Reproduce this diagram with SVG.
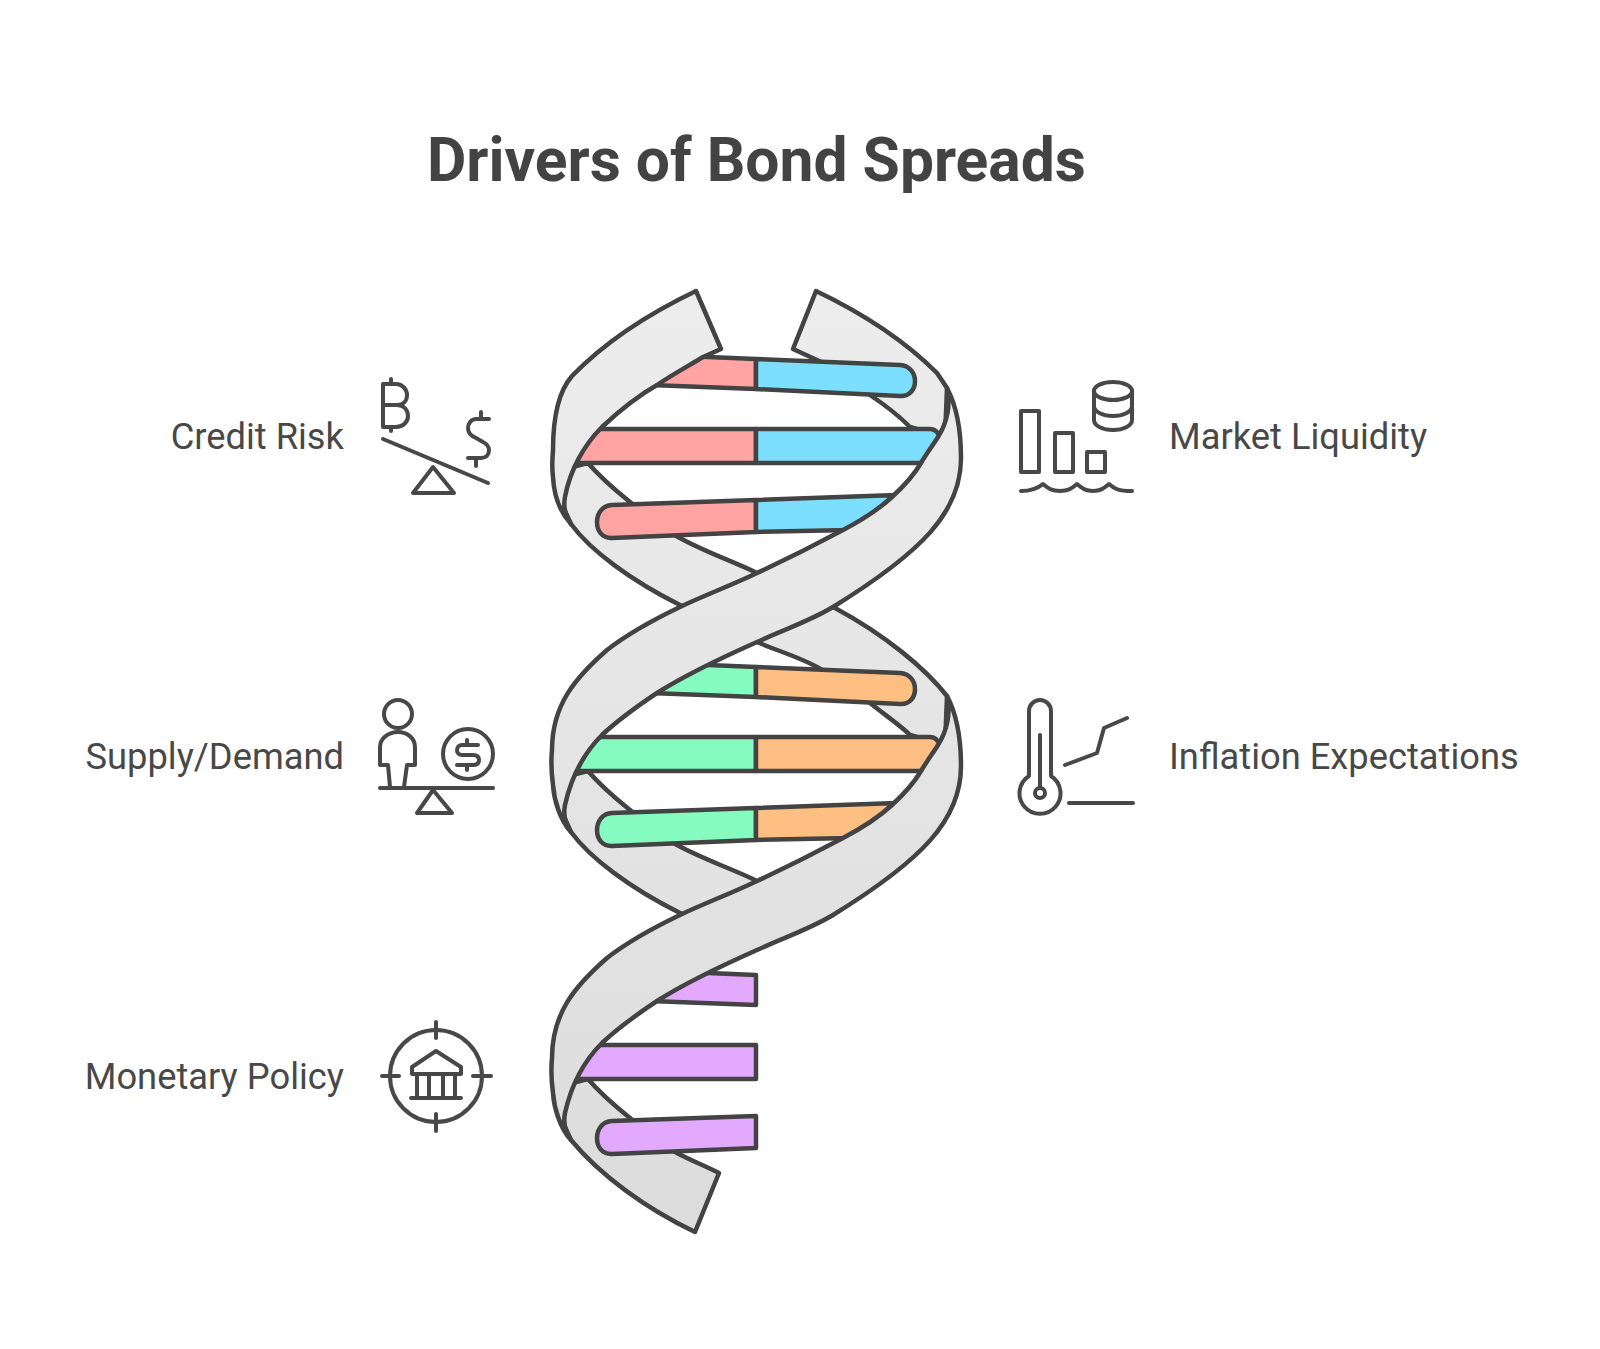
<svg xmlns="http://www.w3.org/2000/svg" xmlns:xlink="http://www.w3.org/1999/xlink" width="1600" height="1349" viewBox="0 0 1600 1349">
<style>
text{font-family:Roboto,"Liberation Sans",sans-serif;fill:#484848}
.t{font-size:60.55px;font-weight:700;fill:#434343}
.l{font-size:36.3px}
.e{text-anchor:end}
.r,.p,.b,.o,.g,.v{stroke:#434343;stroke-width:4.5;stroke-linejoin:round}
.p{fill:#FFA3A3}.b{fill:#7DDFFF}.o{fill:#FFBE82}.g{fill:#85FBC0}.v{fill:#E3A9FF}
.i{fill:none;stroke:#484848;stroke-width:4;stroke-linecap:round;stroke-linejoin:round}
</style>
<defs>
<linearGradient id="a" gradientUnits="userSpaceOnUse" x1="0" y1="290" x2="0" y2="1232"><stop offset="0" stop-color="#EDEDED"/><stop offset="1" stop-color="#DCDCDC"/></linearGradient>
<linearGradient id="a1" gradientUnits="userSpaceOnUse" x1="0" y1="-18" x2="0" y2="924"><stop offset="0" stop-color="#EDEDED"/><stop offset="1" stop-color="#DCDCDC"/></linearGradient>
<path id="front" d="M947 388C956 405 961 430 961 458C961 512 922 552 833 607C810 621 785 629 757 642C730 654 690 672 657 693C636 707 618 720 602 735C584 753 571 778 565 805C563 815 566 825 571 832C560 820 554 800 553 785C551 770 551 760 552 750C552 705 575 678 607 650C630 632 655 619 680 607C705 595 730 586 757 573C785 560 815 545 843 530C862 520 878 510 892 497C904 486 914 475 921 463C927 453 933 445 938 437C947 423 951 405 947 388Z"/>
<path id="back" d="M571 524C590 550 630 580 680 605C705 618 735 632 757 642C780 652 797 656 817 667C836 678 855 690 870 703C885 715 900 725 910 735L945 745L947 696C925 668 885 635 835 608C810 595 785 585 757 573C730 560 705 552 678 537C660 527 645 516 630 502C615 490 600 477 588 463L560 470L560 500Z"/>
</defs>
<rect width="1600" height="1349" fill="#fff"/>
<text class="t" x="427" y="181">Drivers of Bond Spreads</text>

<g id="helix-back" class="r">
<path class="r" fill="url(#a)" d="M816 291C860 312 905 341 937 373L947 388L945 437L910 427C900 417 885 405 870 395C855 384 835 368 817 360L793 349Z"/>
<use href="#back" class="r" fill="url(#a)"/>
<path class="r" fill="url(#a)" d="M571 832C590 858 630 888 680 913C700 924 720 930 740 940L770 900L755 880C730 868 705 860 677 845C660 835 645 824 630 810C615 798 600 785 588 771L560 778L560 808Z"/>
<path class="r" fill="url(#a)" d="M571 1140C600 1175 645 1208 695 1232L719 1173C705 1166 690 1160 677 1153C660 1143 645 1132 630 1118C615 1106 600 1093 588 1079L560 1086L560 1116Z"/>
</g>

<g id="rungs-credit-liquidity">
<path class="p" d="M756 359L660 355L650 385L756 389Z"/>
<path class="b" d="M756 359L900 365C920 366 920 397 900 396L756 389Z"/>
<path class="p" d="M756 429H595L570 463H756Z"/>
<path class="b" d="M756 429H930C935 429 939 433 940 438L925 463H756Z"/>
<path class="p" d="M756 500L612 505C592 506 592 539 612 538L756 532Z"/>
<path class="b" d="M756 500L897 495L850 530L756 532Z"/>
</g>
<g id="rungs-supply-inflation">
<path class="g" d="M756 667L660 663L650 693L756 697Z"/>
<path class="o" d="M756 667L900 673C920 674 920 705 900 704L756 697Z"/>
<path class="g" d="M756 737H595L570 771H756Z"/>
<path class="o" d="M756 737H930C935 737 939 741 940 746L925 771H756Z"/>
<path class="g" d="M756 808L612 813C592 814 592 847 612 846L756 840Z"/>
<path class="o" d="M756 808L897 803L850 838L756 840Z"/>
</g>
<g id="rungs-monetary">
<path class="v" d="M756 975L660 971L650 1001L756 1005Z"/>
<path class="v" d="M756 1045H595L570 1079H756Z"/>
<path class="v" d="M756 1116L612 1121C592 1122 592 1155 612 1154L756 1148Z"/>
</g>

<g id="helix-front">
<path class="r" fill="url(#a)" d="M696 291C650 313 605 342 572 376C558 392 553 420 553 450C552 462 552 470 553 477C554 497 560 512 571 524C566 517 563 507 565 497C570 470 584 445 602 427C618 412 636 397 657 385C675 373 690 365 703 357L721 349Z"/>
<use href="#front" class="r" fill="url(#a)"/>
<use href="#front" y="308" class="r" fill="url(#a1)"/>
</g>

<g id="node-credit-risk">
<text class="l e" x="344" y="449">Credit Risk</text>
<path class="i" d="M383 384H396C403 384 407 390 407 395C407 401 403 405 397 405H383M397 405C404 405 408 410 408 416C408 422 403 427 396 427H383V384M391 379V384M391 427V431"/>
<path class="i" d="M383 439L488 483"/>
<path class="i" d="M433 467L413 493H454Z"/>
<path class="i" d="M489 419H476C471 419 468 424 468 428C468 433 471 436 476 438L483 442C487 444 489 447 489 450C489 455 486 458 481 458H468M481 412V419M476 458V466"/>
</g>
<g id="node-supply-demand">
<text class="l e" x="344" y="769">Supply/Demand</text>
<circle class="i" cx="398" cy="714" r="14"/>
<path class="i" d="M390 787L388 765H380V747C380 738 389 732 398 732C407 732 415 738 415 747V765H407L404 787"/>
<path class="i" d="M380 788H493"/>
<path class="i" d="M433 790L417 813H452Z"/>
<circle class="i" cx="468" cy="754" r="25"/>
<path class="i" d="M478 745H462C459 745 457 747 457 750C457 753 459 755 462 755H473C477 755 479 757 479 760C479 763 477 765 473 765H457M467 740V745M467 765V770"/>
</g>
<g id="node-monetary-policy">
<text class="l e" x="344" y="1089">Monetary Policy</text>
<circle class="i" cx="436" cy="1076" r="46"/>
<path class="i" d="M436 1022V1038M436 1114V1131M382 1076H399M473 1076H491"/>
<path class="i" d="M412 1067L436 1051L461 1067V1074H412ZM417 1074V1098M429 1074V1098M443 1074V1098M455 1074V1098M411 1098H461"/>
</g>
<g id="node-market-liquidity">
<text class="l" x="1169" y="449">Market Liquidity</text>
<rect class="i" x="1021" y="411" width="18" height="61"/>
<rect class="i" x="1055" y="433" width="18" height="39"/>
<rect class="i" x="1087" y="452" width="18" height="20"/>
<ellipse class="i" cx="1113" cy="391" rx="19" ry="9"/>
<path class="i" d="M1094 391V420C1094 426 1103 430 1113 430C1123 430 1132 426 1132 420V391M1094 406C1094 412 1103 416 1113 416C1123 416 1132 412 1132 406"/>
<path class="i" d="M1021 491C1030 491 1037 489 1043 484C1049 489 1052 491 1060 491C1068 491 1071 489 1077 484C1083 489 1086 491 1093 491C1100 491 1103 489 1109 484C1115 489 1118 491 1132 491"/>
</g>
<g id="node-inflation-expectations">
<text class="l" x="1169" y="769">Inflation Expectations</text>
<path class="i" d="M1029 776V711A11 11 0 0 1 1051 711V776A20.5 20.5 0 1 1 1029 776Z"/>
<path class="i" d="M1040 735V788"/>
<circle class="i" cx="1040" cy="793" r="5"/>
<path class="i" d="M1065 765L1097 753L1104 728L1127 718"/>
<path class="i" d="M1069 803H1133"/>
</g>
</svg>
